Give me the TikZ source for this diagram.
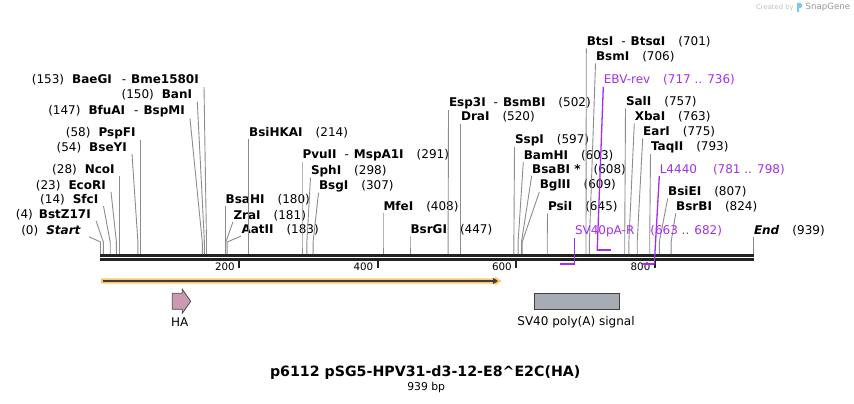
\documentclass[tikz,border=0pt]{standalone}
\usepackage{fontspec}
\setmainfont{DejaVu Sans}
\usetikzlibrary{arrows.meta}
\definecolor{cutgray}{RGB}{140,140,140}
\definecolor{seqblack}{RGB}{34,34,34}
\definecolor{primpurple}{RGB}{163,46,240}
\definecolor{orfband}{RGB}{250,200,110}
\definecolor{orfline}{RGB}{70,60,45}
\definecolor{hapink}{RGB}{204,153,180}
\definecolor{sigfill}{RGB}{166,171,180}
\definecolor{wmgray}{RGB}{192,192,192}
\definecolor{wmdark}{RGB}{150,150,150}
\definecolor{logoblue}{RGB}{120,200,240}
\begin{document}
\begin{tikzpicture}[x=1pt,y=-1pt,
  lsite/.style={anchor=base east,inner xsep=5pt,inner ysep=1pt,font=\fontsize{12}{14}\selectfont},
  rsite/.style={anchor=base west,inner xsep=0.3pt,inner ysep=1pt,font=\fontsize{12}{14}\selectfont},
  prim/.style={rsite,text=primpurple},
  cut/.style={draw=cutgray,line width=0.9pt,to path={-- (knee -| \tikztotarget) -- (\tikztotarget)}},
  plink/.style={draw=primpurple,line width=1.3pt},
  pbar/.style={draw=primpurple,line width=2pt},
  tick/.style={draw=seqblack,line width=2pt},
  flabel/.style={inner sep=0pt,font=\fontsize{12}{14}\selectfont}]
\useasboundingbox (0,0) rectangle (854,404);
% backbone
\coordinate (seqL) at (100,255.3); \coordinate (seqR) at (754,255.3);
\draw[seqblack,line width=2.6pt] (seqL) -- (seqR);
\draw[seqblack,line width=2.6pt] ([yshift=-3.9pt]seqL) -- ([yshift=-3.9pt]seqR);
\coordinate (knee) at (0,242);
% ticks
\draw[tick] (239,259) -- (239,268); \draw[tick] (377.5,259) -- (377.5,268);
\draw[tick] (516,259) -- (516,268); \draw[tick] (654.5,259) -- (654.5,268);
\node[anchor=east,inner sep=0pt,font=\fontsize{10.3}{12}\selectfont] (n200) at (235,266.7) {200};
\node[anchor=east,inner sep=0pt,font=\fontsize{10.3}{12}\selectfont] (n400) at (373.5,266.7) {400};
\node[anchor=east,inner sep=0pt,font=\fontsize{10.3}{12}\selectfont] (n600) at (512,266.7) {600};
\node[anchor=east,inner sep=0pt,font=\fontsize{10.3}{12}\selectfont] (n800) at (650.5,266.7) {800};
% sites on the sequence
\coordinate (sStart) at (100.5,254); \coordinate (sBstZ17I) at (103.3,254);
\coordinate (sSfcI) at (110.2,254); \coordinate (sEcoRI) at (116.4,254);
\coordinate (sNcoI) at (119.9,254); \coordinate (sBseYI) at (137.9,254);
\coordinate (sPspFI) at (140.7,254); \coordinate (sBfuAI) at (202.3,254);
\coordinate (sBanI) at (204.4,254); \coordinate (sBaeGI) at (206.5,254);
\coordinate (sBsaHI) at (225.2,254); \coordinate (sZraI) at (225.8,254);
\coordinate (sAatII) at (227.2,254); \coordinate (sBsiHKAI) at (248.7,254);
\coordinate (sPvuII) at (302,254); \coordinate (sSphI) at (306.9,254);
\coordinate (sBsgI) at (313.1,254); \coordinate (sMfeI) at (383,254);
\coordinate (sBsrGI) at (410,254); \coordinate (sEsp3I) at (448.1,254);
\coordinate (sDraI) at (460.6,254); \coordinate (sSspI) at (513.9,254);
\coordinate (sBamHI) at (518.1,254); \coordinate (sBsaBI) at (521.5,254);
\coordinate (sBglII) at (522.2,254); \coordinate (sPsiI) at (547.2,254);
\coordinate (sBtsI) at (586,254); \coordinate (sBsmI) at (589.4,254);
\coordinate (sSalI) at (624.7,254); \coordinate (sXbaI) at (628.9,254);
\coordinate (sEarI) at (637.2,254); \coordinate (sTaqII) at (649.7,254);
\coordinate (sBsiEI) at (659.3,254); \coordinate (sBsrBI) at (671.1,254);
\coordinate (sEnd) at (753.5,254);
% labels, left side
\node[lsite,inner xsep=8pt] (lStart) at (89,234) {(0)\hspace{8pt}\textbf{\textit{Start}}};
\node[lsite] (lBstZ17I) at (96,218) {(4)\hspace{6pt}\textbf{BstZ17I}};
\node[lsite] (lSfcI) at (103.5,203.3) {(14)\hspace{8pt}\textbf{SfcI}};
\node[lsite] (lEcoRI) at (111,189) {(23)\hspace{8pt}\textbf{EcoRI}};
\node[lsite] (lNcoI) at (119.9,173.3) {(28)\hspace{8pt}\textbf{NcoI}};
\node[lsite] (lBseYI) at (132,151.3) {(54)\hspace{8pt}\textbf{BseYI}};
\node[lsite] (lPspFI) at (140.7,136.3) {(58)\hspace{8pt}\textbf{PspFI}};
\node[lsite] (lBfuAI) at (190,114.7) {(147)\hspace{8pt}\textbf{BfuAI}\hspace{9pt}-\hspace{5pt}\textbf{BspMI}};
\node[lsite] (lBanI) at (197.3,99) {(150)\hspace{8pt}\textbf{BanI}};
\node[lsite] (lBaeGI) at (204,84) {(153)\hspace{8pt}\textbf{BaeGI}\hspace{10pt}-\hspace{5pt}\textbf{Bme1580I}};
% labels, right side
\node[rsite] (lBsaHI) at (225.2,203.3) {\textbf{BsaHI}\hspace{13pt}(180)};
\node[rsite] (lZraI) at (233,219) {\textbf{ZraI}\hspace{13pt}(181)};
\node[rsite] (lAatII) at (241,233.3) {\textbf{AatII}\hspace{13pt}(183)};
\node[rsite] (lBsiHKAI) at (248.7,136.7) {\textbf{BsiHKAI}\hspace{13pt}(214)};
\node[rsite] (lPvuII) at (302,158.3) {\textbf{PvuII}\hspace{8pt}-\hspace{5pt}\textbf{MspA1I}\hspace{13pt}(291)};
\node[rsite] (lSphI) at (310.5,174) {\textbf{SphI}\hspace{13pt}(298)};
\node[rsite] (lBsgI) at (318.5,189) {\textbf{BsgI}\hspace{13pt}(307)};
\node[rsite] (lMfeI) at (383,210.7) {\textbf{MfeI}\hspace{13pt}(408)};
\node[rsite] (lBsrGI) at (410,233.3) {\textbf{BsrGI}\hspace{13pt}(447)};
\node[rsite] (lEsp3I) at (448.5,106.3) {\textbf{Esp3I}\hspace{8pt}-\hspace{5pt}\textbf{BsmBI}\hspace{13pt}(502)};
\node[rsite] (lDraI) at (460.6,121) {\textbf{DraI}\hspace{13pt}(520)};
\node[rsite] (lSspI) at (514.5,143.3) {\textbf{SspI}\hspace{13pt}(597)};
\node[rsite] (lBamHI) at (523.3,159) {\textbf{BamHI}\hspace{13pt}(603)};
\node[rsite] (lBsaBI) at (531.7,173) {\textbf{BsaBI *}\hspace{13pt}(608)};
\node[rsite] (lBglII) at (539.3,188.3) {\textbf{BglII}\hspace{13pt}(609)};
\node[rsite] (lPsiI) at (547.5,210.7) {\textbf{PsiI}\hspace{13pt}(645)};
\node[rsite] (lBtsI) at (586.3,45.7) {\textbf{BtsI}\hspace{8pt}-\hspace{5pt}\textbf{BtsαI}\hspace{13pt}(701)};
\node[rsite] (lBsmI) at (595.5,60.7) {\textbf{BsmI}\hspace{13pt}(706)};
\node[rsite] (lSalI) at (625.5,105.7) {\textbf{SalI}\hspace{13pt}(757)};
\node[rsite] (lXbaI) at (634.3,120.7) {\textbf{XbaI}\hspace{13pt}(763)};
\node[rsite] (lEarI) at (642.7,135.7) {\textbf{EarI}\hspace{13pt}(775)};
\node[rsite] (lTaqII) at (650.5,150.5) {\textbf{TaqII}\hspace{13pt}(793)};
\node[rsite] (lBsiEI) at (667.7,195.7) {\textbf{BsiEI}\hspace{13pt}(807)};
\node[rsite] (lBsrBI) at (675.7,210.7) {\textbf{BsrBI}\hspace{13pt}(824)};
\node[rsite] (lEnd) at (753.5,234) {\textbf{\textit{End}}\hspace{13pt}(939)};
% cut site connectors
\path (lStart.south east) edge[cut] (sStart); \path (lBstZ17I.south east) edge[cut] (sBstZ17I);
\path (lSfcI.south east) edge[cut] (sSfcI); \path (lEcoRI.south east) edge[cut] (sEcoRI);
\path (lNcoI.south east) edge[cut] (sNcoI); \path (lBseYI.south east) edge[cut] (sBseYI);
\path (lPspFI.south east) edge[cut] (sPspFI); \path (lBfuAI.south east) edge[cut] (sBfuAI);
\path (lBanI.south east) edge[cut] (sBanI); \path (lBaeGI.south east) edge[cut] (sBaeGI);
\path (lBsaHI.south west) edge[cut] (sBsaHI); \path (lZraI.south west) edge[cut] (sZraI);
\path (lAatII.south west) edge[cut] (sAatII); \path (lBsiHKAI.south west) edge[cut] (sBsiHKAI);
\path (lPvuII.south west) edge[cut] (sPvuII); \path (lSphI.south west) edge[cut] (sSphI);
\path (lBsgI.south west) edge[cut] (sBsgI); \path (lMfeI.south west) edge[cut] (sMfeI);
\path (lBsrGI.south west) edge[cut] (sBsrGI); \path (lEsp3I.south west) edge[cut] (sEsp3I);
\path (lDraI.south west) edge[cut] (sDraI); \path (lSspI.south west) edge[cut] (sSspI);
\path (lBamHI.south west) edge[cut] (sBamHI); \path (lBsaBI.south west) edge[cut] (sBsaBI);
\path (lBglII.south west) edge[cut] (sBglII); \path (lPsiI.south west) edge[cut] (sPsiI);
\path (lBtsI.south west) edge[cut] (sBtsI); \path (lBsmI.south west) edge[cut] (sBsmI);
\path (lSalI.south west) edge[cut] (sSalI); \path (lXbaI.south west) edge[cut] (sXbaI);
\path (lEarI.south west) edge[cut] (sEarI); \path (lTaqII.south west) edge[cut] (sTaqII);
\path (lBsiEI.south west) edge[cut] (sBsiEI); \path (lBsrBI.south west) edge[cut] (sBsrBI);
\path (lEnd.south west) edge[cut] (sEnd);
% primers
\coordinate (pSVa) at (559.6,264.3); \coordinate (pSVb) at (574.5,264.3);
\coordinate (pEBVa) at (597.2,250.3); \coordinate (pEBVb) at (610.7,250.3);
\coordinate (pLa) at (641.5,264.3); \coordinate (pLb) at (654.3,264.3);
\draw[pbar] (pSVa) -- (pSVb); \draw[pbar] (pEBVa) -- (pEBVb); \draw[pbar] (pLa) -- (pLb);
\node[prim] (lSV40pA) at (574.5,234) {SV40pA-R\hspace{16pt}(663 .. 682)};
\node[prim] (lEBV) at (603.3,84) {EBV-rev\hspace{13pt}(717 .. 736)};
\node[prim] (lL4440) at (659.3,173.3) {L4440\hspace{16pt}(781 .. 798)};
\path (lSV40pA.south west) edge[plink] (pSVb); \path (lEBV.south west) edge[plink] (pEBVa);
\path (lL4440.south west) edge[plink] (pLb);
% features
\fill[orfband] (101,278.3) -- (495,278.3) -- (495,276.5) -- (501.5,281) -- (495,285.5) -- (495,283.6) -- (101,283.6) -- cycle;
\draw[orfline,line width=1.8pt,-{Triangle[length=5pt,width=6pt]}] (102.5,281) -- (498,281);
\draw[fill=hapink,draw=black!70,line width=0.8pt] (172.3,293.3) -- (182.3,293.3) -- (182.3,289.3) -- (190.7,301.3) -- (182.3,313.3) -- (182.3,309.3) -- (172.3,309.3) -- cycle;
\node[flabel] (lHA) at (179.7,322.5) {HA};
\node[draw=black!75,fill=sigfill,line width=0.8pt,minimum width=85.7pt,minimum height=16pt,inner sep=0pt] (sv40) at (576.8,301.3) {};
\node[flabel] (lsv40) at (576,322.5) {SV40 poly(A) signal};
% title
\node[inner sep=0pt,font=\fontsize{14.2}{16}\selectfont\bfseries] (title) at (425.2,372.7) {p6112 pSG5-HPV31-d3-12-E8\textasciicircum E2C(HA)};
\node[inner sep=0pt,font=\fontsize{10.8}{12}\selectfont] (len) at (426.2,387.7) {939 bp};
% watermark
\node[anchor=west,inner sep=0pt,text=wmgray,font=\fontsize{6.8}{8}\selectfont] (made) at (756,7.3) {Created by};
\fill[logoblue] (797,12) -- (797,3) -- (800,3) .. controls (803,3) and (803,8) .. (800,8) -- (799,8) -- (799,12) -- cycle;
\node[anchor=west,inner sep=0pt,text=wmdark,font=\fontsize{8.6}{10}\selectfont] (sg) at (805.5,7.3) {SnapGene};
\end{tikzpicture}
\end{document}
